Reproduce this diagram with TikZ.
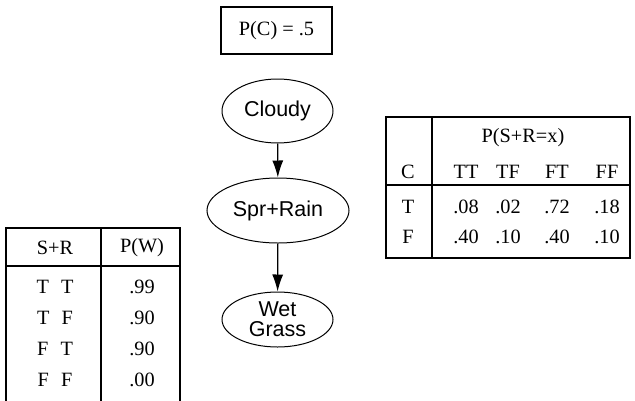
\documentclass[tikz,border=0pt]{standalone}
\usepackage{fontspec}
\setmainfont{Liberation Serif}
\setsansfont{Liberation Sans}
\usetikzlibrary{shapes.geometric, arrows.meta}

\begin{document}
\begin{tikzpicture}[x=1pt, y=-1pt]
					\tikzstyle{var} = [draw, ellipse, line width=1pt, inner sep=0pt, font=\sffamily\fontsize{21.5}{20}\selectfont]
					\tikzstyle{cell} = [inner sep=0pt, font=\fontsize{20.3}{22}\selectfont]
					\tikzstyle{rule} = [line width=1.2pt]
					\tikzstyle{edge} = [line width=1.2pt, -{Latex[length=17pt, width=11pt]}]
					\useasboundingbox (0,0) rectangle (635,400);
					% network
					\node[draw, rule, minimum width=111pt, minimum height=47pt, cell] (prior) at (276.5,30.5) {P(C) = .5};
					\node[var, minimum width=111pt, minimum height=64pt] (cloudy) at (277.5,111) {Cloudy};
					\node[var, minimum width=142pt, minimum height=65pt] (sprrain) at (278,210.5) {Spr+Rain};
					\node[var, minimum width=111pt, minimum height=55pt, align=center] (wet) at (277.5,319.5) {Wet\\Grass};
					\draw[edge] (cloudy) -- (sprrain);
					\draw[edge] (sprrain) -- (wet);
					% table for Spr+Rain
					\draw[rule] (386,117) rectangle (630,258);
					\draw[rule] (386,185) -- (630,185);
					\draw[line width=2pt] (432,117) -- (432,258);
					\node[cell] (sr) at (523,138) {P(S+R=x)};
					\node[cell] (c) at (408,172) {C};
					\node[cell] (tt) at (466,172) {TT};
					\node[cell] (tf) at (508,172) {TF};
					\node[cell] (ft) at (557,172) {FT};
					\node[cell] (ff) at (607,172) {FF};
					\node[cell] (ct) at (408,207) {T};
					\node[cell] (cf) at (408,237) {F};
					\node[cell] (t1) at (466,207) {.08};
					\node[cell] (t2) at (508,207) {.02};
					\node[cell] (t3) at (557,207) {.72};
					\node[cell] (t4) at (607,207) {.18};
					\node[cell] (f1) at (466,237) {.40};
					\node[cell] (f2) at (508,237) {.10};
					\node[cell] (f3) at (557,237) {.40};
					\node[cell] (f4) at (607,237) {.10};
					% table for Wet Grass
					\draw[rule] (6,402) -- (6,228) -- (180,228) -- (180,402);
					\draw[rule] (6,266) -- (180,266);
					\draw[rule] (101,228) -- (101,402);
					\node[cell] (srh) at (55,248) {S+R};
					\node[cell] (pw) at (142,248) {P(W)};
					\node[cell] (r1) at (55,287) {T\hspace{.6em}T};
					\node[cell] (r2) at (55,318) {T\hspace{.6em}F};
					\node[cell] (r3) at (55,349) {F\hspace{.6em}T};
					\node[cell] (r4) at (55,380) {F\hspace{.6em}F};
					\node[cell] (w1) at (142,287) {.99};
					\node[cell] (w2) at (142,318) {.90};
					\node[cell] (w3) at (142,349) {.90};
					\node[cell] (w4) at (142,380) {.00};
				\end{tikzpicture}
\end{document}
